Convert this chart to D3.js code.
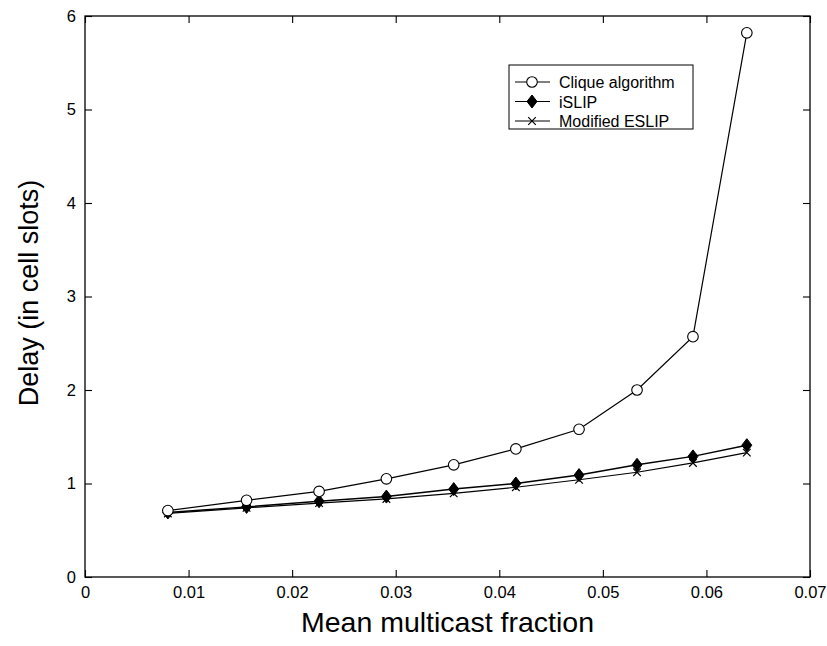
<!DOCTYPE html>
<html>
<head>
<meta charset="utf-8">
<script src="https://cdn.jsdelivr.net/npm/d3@7"></script>
<style>
  html, body { margin: 0; padding: 0; background: #fff; }
  svg { display: block; font-family: "Liberation Sans", Arial, Helvetica, sans-serif; }
</style>
</head>
<body>
<svg id="chart" width="827" height="646"></svg>
<script>
// ---- data ----
const xValues = [0.0080, 0.0156, 0.0226, 0.0291, 0.0356, 0.0416, 0.0477, 0.0533, 0.0587, 0.0639];
const cliqueValues = [0.71, 0.82, 0.915, 1.05, 1.20, 1.37, 1.58, 2.00, 2.57, 5.82];
const islipValues  = [0.69, 0.75, 0.81, 0.86, 0.94, 1.00, 1.09, 1.20, 1.29, 1.41];
const eslipValues  = [0.68, 0.74, 0.79, 0.835, 0.895, 0.96, 1.04, 1.12, 1.22, 1.33];
const xTicks = [0, 0.01, 0.02, 0.03, 0.04, 0.05, 0.06, 0.07];
const yTicks = [0, 1, 2, 3, 4, 5, 6];
const seriesNames = ["Clique algorithm", "iSLIP", "Modified ESLIP"];
const xTitle = "Mean multicast fraction";
const yTitle = "Delay (in cell slots)";

const series = [
  { name: seriesNames[0], values: cliqueValues, marker: "circle" },
  { name: seriesNames[1], values: islipValues, marker: "diamond" },
  { name: seriesNames[2], values: eslipValues, marker: "x" }
];

// ---- layout ----
const pLeft = 85, pRight = 810, pTop = 16, pBottom = 577;
const svg = d3.select("#chart");
const x = d3.scaleLinear().domain([0, 0.07]).range([pLeft, pRight]);
const y = d3.scaleLinear().domain([0, 6]).range([pBottom, pTop]);
const fmtX = d => d === 0 ? "0" : d3.format(".2f")(d);

// box
svg.append("rect").attr("x", pLeft).attr("y", pTop)
  .attr("width", pRight - pLeft).attr("height", pBottom - pTop)
  .attr("fill", "none").attr("stroke", "#000").attr("stroke-width", 1.3);

// axes with inward ticks
const tl = 7;
const gx = svg.append("g").attr("transform", `translate(0,${pBottom})`)
  .call(d3.axisBottom(x).tickValues(xTicks).tickFormat(fmtX).tickSizeInner(-tl).tickSizeOuter(0).tickPadding(9));
const gxTop = svg.append("g").attr("transform", `translate(0,${pTop})`)
  .call(d3.axisTop(x).tickValues(xTicks).tickFormat("").tickSizeInner(-tl).tickSizeOuter(0));
const gy = svg.append("g").attr("transform", `translate(${pLeft},0)`)
  .call(d3.axisLeft(y).tickValues(yTicks).tickFormat(d3.format("d")).tickSizeInner(-tl).tickSizeOuter(0).tickPadding(9));
const gyR = svg.append("g").attr("transform", `translate(${pRight},0)`)
  .call(d3.axisRight(y).tickValues(yTicks).tickFormat("").tickSizeInner(-tl).tickSizeOuter(0));
[gx, gxTop, gy, gyR].forEach(g => {
  g.select(".domain").remove();
  g.selectAll("line").attr("stroke", "#000").attr("stroke-width", 1.1);
  g.selectAll("text").attr("fill", "#000").attr("font-size", 16.5)
    .attr("font-family", "'Liberation Sans', Arial, sans-serif");
});

// titles
svg.append("text").attr("x", (pLeft + pRight) / 2).attr("y", 632)
  .attr("text-anchor", "middle").attr("font-size", 28.5).text(xTitle);
svg.append("text").attr("transform", `translate(38,293) rotate(-90)`)
  .attr("text-anchor", "middle").attr("font-size", 27).text(yTitle);

// marker drawing
function drawMarker(g, type, cx, cy) {
  if (type === "circle") {
    g.append("circle").attr("cx", cx).attr("cy", cy).attr("r", 5.3)
      .attr("fill", "#fff").attr("stroke", "#000").attr("stroke-width", 1.1);
  } else if (type === "diamond") {
    g.append("path")
      .attr("d", `M${cx},${cy - 6.5}L${cx + 5},${cy}L${cx},${cy + 6.5}L${cx - 5},${cy}Z`)
      .attr("fill", "#000").attr("stroke", "#000").attr("stroke-width", 1);
  } else {
    const s = 3.8;
    g.append("path")
      .attr("d", `M${cx - s},${cy - s}L${cx + s},${cy + s}M${cx - s},${cy + s}L${cx + s},${cy - s}`)
      .attr("fill", "none").attr("stroke", "#000").attr("stroke-width", 1.2);
  }
}

const line = d3.line().x(d => x(d[0])).y(d => y(d[1]));
// draw in order: ESLIP, iSLIP, Clique
[series[2], series[1], series[0]].forEach(s => {
  const pts = xValues.map((xv, i) => [xv, s.values[i]]);
  const g = svg.append("g");
  g.append("path").datum(pts).attr("d", line)
    .attr("fill", "none").attr("stroke", "#000")
    .attr("stroke-width", s.marker === "diamond" ? 1.5 : 1.2);
  pts.forEach(p => drawMarker(g, s.marker, x(p[0]), y(p[1])));
});

// legend
const lg = svg.append("g");
lg.append("rect").attr("x", 509).attr("y", 65).attr("width", 184).attr("height", 64)
  .attr("fill", "#fff").attr("stroke", "#000").attr("stroke-width", 1);
series.forEach((s, i) => {
  const ly = 82 + i * 19.5;
  lg.append("line").attr("x1", 515).attr("x2", 550).attr("y1", ly).attr("y2", ly)
    .attr("stroke", "#000").attr("stroke-width", 1.2);
  drawMarker(lg, s.marker, 532, ly);
  lg.append("text").attr("x", 559).attr("y", ly + 6).attr("font-size", 16).text(s.name);
});
</script>
</body>
</html>
